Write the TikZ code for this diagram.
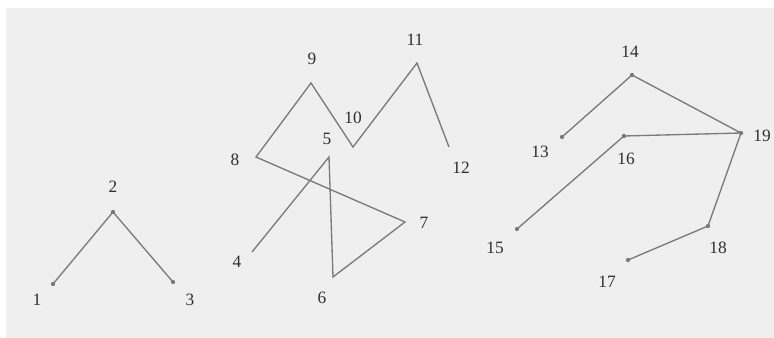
\documentclass[tikz,border=0pt]{standalone}
\usepackage{fontspec}
\setmainfont{Liberation Serif}
\usetikzlibrary{positioning}
\definecolor{ptPaper}{HTML}{EFEFEF}
\definecolor{ptLine}{HTML}{7A7A7A}
\definecolor{ptText}{HTML}{2E2E2E}
\tikzset{
  dot/.style={circle, fill=ptLine, inner sep=0pt, minimum size=3.2pt},
  bare/.style={inner sep=0pt, minimum size=0pt},
  num/.style={text=ptText, inner sep=0pt, font=\fontsize{13}{15}\selectfont},
  seg/.style={draw=ptLine, line width=1pt, line join=miter},
}

\begin{document}
\begin{tikzpicture}[x=0.75pt, y=-0.75pt]

\useasboundingbox (0,0) rectangle (774,338);
\fill[ptPaper] (6,8) rectangle (774,338);

% points with dots: first and third figure
\foreach \n/\px/\py/\lx/\ly in {%
  1/53/284/37/300, 2/113/212/113/187, 3/173/282/190/300,
  13/562/137/540/152, 14/632/75/630/52, 15/517/229/495/248,
  16/624/136/626/159, 17/628/260/607/282, 18/708/226/718/248,
  19/741/133/762/136%
} {
  \node[dot] (p\n) at (\px,\py) {};
  \node[num] (l\n) at (\lx,\ly) {\n};
}

% points without dots: middle figure
\foreach \n/\px/\py/\lx/\ly in {%
  4/252/252/237/262, 5/329/157/327/139, 6/333/277/322/298,
  7/405/222/424/223, 8/256/157/235/160, 9/311/83/312/59,
  10/353/147/353/118, 11/417/63/415/40, 12/449/147/461/168%
} {
  \node[bare] (p\n) at (\px,\py) {};
  \node[num] (l\n) at (\lx,\ly) {\n};
}

\draw[seg] (p1.center) -- (p2.center) -- (p3.center);

\draw[seg] (p4.center) -- (p5.center) -- (p6.center) -- (p7.center)
  -- (p8.center) -- (p9.center) -- (p10.center) -- (p11.center)
  -- (p12.center);

\draw[seg] (p13.center) -- (p14.center) -- (p19.center) -- (p16.center)
  -- (p15.center);
\draw[seg] (p19.center) -- (p18.center) -- (p17.center);

\end{tikzpicture}
\end{document}
